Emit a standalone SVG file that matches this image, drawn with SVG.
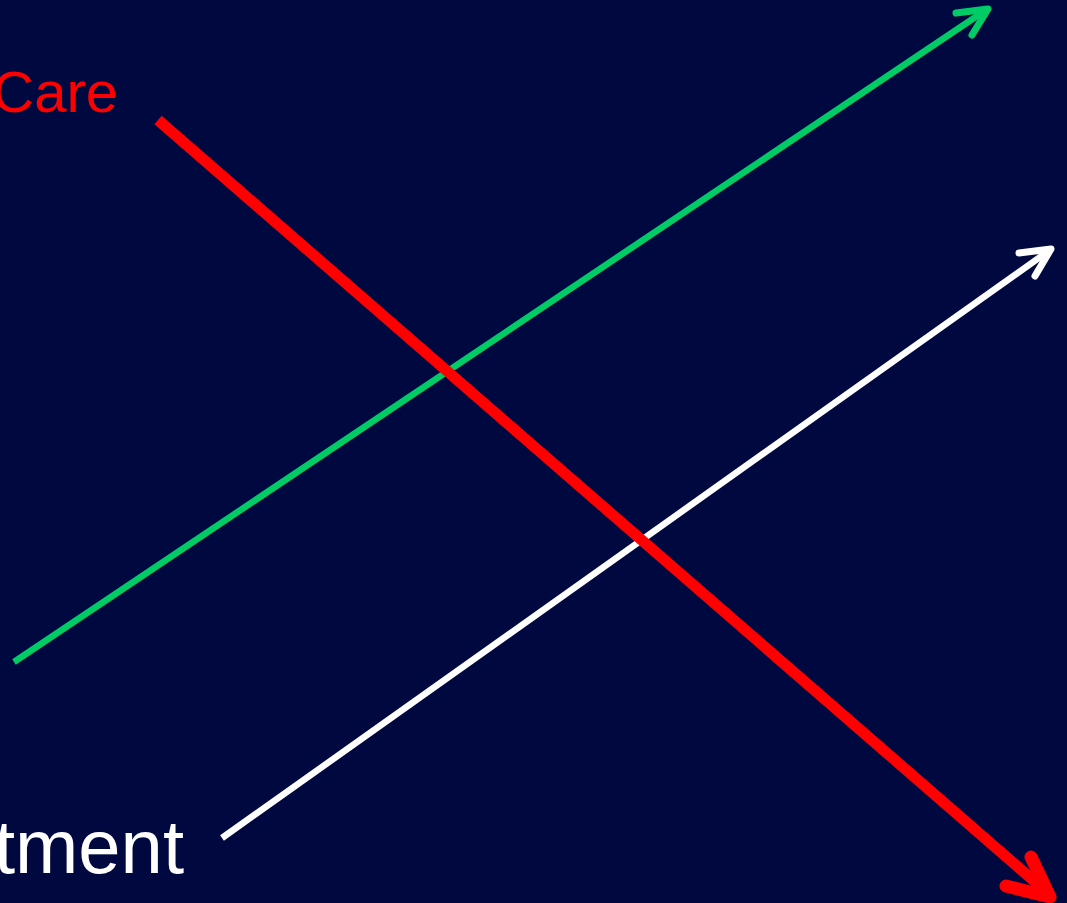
<svg xmlns="http://www.w3.org/2000/svg" width="1067" height="903" viewBox="0 0 1067 903">
<style>
.ln{fill:none;stroke-linecap:butt}
.hd{fill:none;stroke-linecap:round;stroke-linejoin:round}
.lbl{font-family:"Liberation Sans",Arial,sans-serif}
</style>
<rect width="1067" height="903" fill="#000840"/>
<g id="connectors">
<g id="green-arrow" stroke="#00CC66">
<line class="ln" x1="14" y1="662" x2="986" y2="10" stroke-width="6.5"/>
<polyline class="hd" points="956,13 988,9 972,35" stroke-width="7"/>
</g>
<g id="white-arrow" stroke="#FFFFFF">
<line class="ln" x1="222" y1="838" x2="1050" y2="250" stroke-width="6.5"/>
<polyline class="hd" points="1019,253 1051,249 1035,276" stroke-width="7"/>
</g>
<g id="red-arrow" stroke="#FF0000">
<line class="ln" x1="158" y1="120" x2="1048" y2="893" stroke-width="11"/>
<polyline class="hd" points="1031,857 1050,897 1006,886" stroke-width="13"/>
</g>
</g>
<g id="label-care">
<text class="lbl" x="118" y="112" font-size="58" fill="#FF0000" text-anchor="end">Care</text>
</g>
<g id="label-tment">
<text class="lbl" x="184" y="873" font-size="76" fill="#FFFFFF" text-anchor="end">tment</text>
</g>
</svg>
